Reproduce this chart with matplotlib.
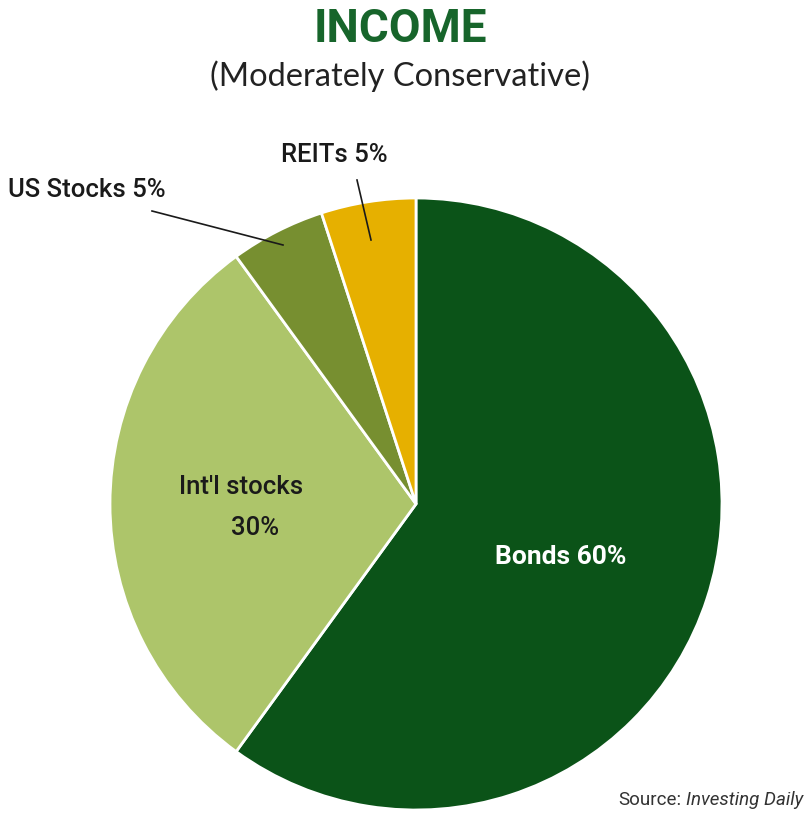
import matplotlib.pyplot as plt

# allocation for the income portfolio
labels = ["Bonds", "Int'l stocks", "US Stocks", "REITs"]
shares = [60, 30, 5, 5]
colors = ["#0b5318", "#adc56a", "#778f30", "#e6b000"]

W, H = 807, 816
fam = ["Roboto", "DejaVu Sans"]
ink = "#1a1a1a"


def yy(y):
    # pixel rows counted from the top
    return H - y


fig = plt.figure(figsize=(W / 100, H / 100), dpi=100)
ax = fig.add_axes([0, 0, 1, 1])
ax.pie(shares, colors=colors, startangle=90, counterclock=False,
       center=(416, yy(504)), radius=306,
       wedgeprops=dict(edgecolor="white", linewidth=2))
ax.set_xlim(0, W)
ax.set_ylim(0, H)
ax.set_aspect("equal")
ax.axis("off")

ax.text(400, yy(29), "INCOME", ha="center", va="center", fontsize=33,
        fontweight="bold", color="#17652b", family=fam)
ax.text(400, yy(76), "(Moderately Conservative)", ha="center", va="center",
        fontsize=23.5, color="#222222", family=["Lato", "DejaVu Sans"])

ax.text(561, yy(557), f"{labels[0]} {shares[0]}%", ha="center", va="center",
        fontsize=19, fontweight="bold", color="white", family=fam)
ax.text(241, yy(487), labels[1], ha="center", va="center",
        fontsize=18.5, fontweight="medium", color=ink, family=fam)
ax.text(255, yy(528), f"{shares[1]}%", ha="center", va="center",
        fontsize=18.5, fontweight="medium", color=ink, family=fam)

# outside labels for the two thin slices, with leader lines
ax.text(87, yy(190), f"{labels[2]} {shares[2]}%", ha="center", va="center",
        fontsize=18.5, fontweight="medium", color=ink, family=fam)
ax.plot([152, 283], [yy(211), yy(245)], color=ink, lw=1.2)
ax.text(334, yy(155), f"{labels[3]} {shares[3]}%", ha="center", va="center",
        fontsize=18.5, fontweight="medium", color=ink, family=fam)
ax.plot([357, 371], [yy(180), yy(240)], color=ink, lw=1.2)

src = ax.text(803, yy(800), "Investing Daily", ha="right", va="center",
              fontsize=13.5, style="italic", color="#333333", family=fam)
fig.canvas.draw()
x0 = src.get_window_extent().x0
ax.text(x0 - 4, yy(800), "Source:", ha="right", va="center", fontsize=13.5,
        color="#333333", family=fam)

fig.savefig("out.png", dpi=100)
